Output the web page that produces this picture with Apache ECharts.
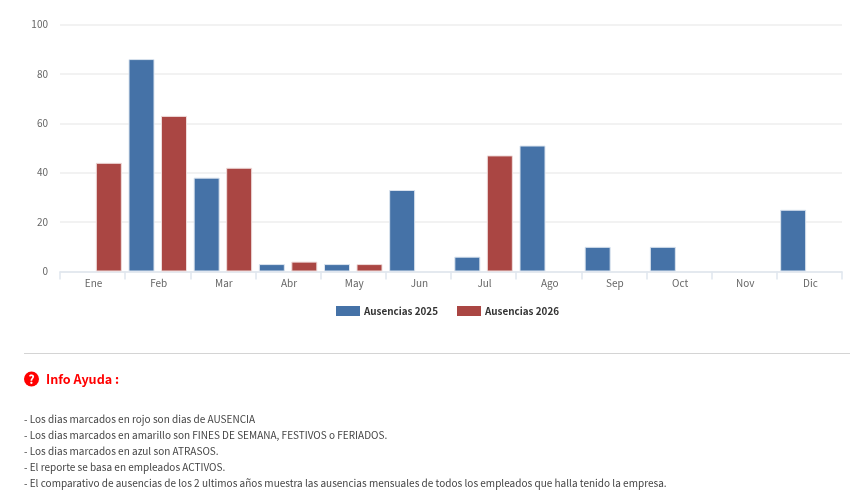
<!DOCTYPE html>
<html><head><meta charset="utf-8">
<style>html,body{margin:0;padding:0;background:#fff}#c{width:861px;height:492px}</style>
<script src="https://cdn.jsdelivr.net/npm/echarts@6/dist/echarts.min.js"></script>
</head><body><div id="c"></div>
<script>
const categories=['Ene','Feb','Mar','Abr','May','Jun','Jul','Ago','Sep','Oct','Nov','Dic'];
const ausencias2025=[null,86,38,3,3,33,6,51,10,10,null,25];
const ausencias2026=[44,63,42,4,3,null,47,null,null,null,null,null];
const seriesNames=['Ausencias 2025','Ausencias 2026'];
const yTicks={min:0,max:100,interval:20};
const helpTitle='Info Ayuda :';
const helpLines=[
 '- Los dias marcados en rojo son dias de AUSENCIA',
 '- Los dias marcados en amarillo son FINES DE SEMANA, FESTIVOS o FERIADOS.',
 '- Los dias marcados en azul son ATRASOS.',
 '- El reporte se basa en empleados ACTIVOS.',
 '- El comparativo de ausencias de los 2 ultimos años muestra las ausencias mensuales de todos los empleados que halla tenido la empresa.'
];
const font='"Noto Sans CJK SC"';
const chart=echarts.init(document.getElementById('c'),null,{renderer:'canvas'});
const mk=(name,data,color,border)=>({name,type:'bar',data,barWidth:26,barGap:'25%',
  itemStyle:{color,borderColor:border,borderWidth:1},
  emphasis:{disabled:true},animation:false});
chart.setOption({
 animation:false,
 grid:{left:60,right:19,top:24.5,height:247},
 legend:{data:seriesNames,left:331,top:301,itemWidth:24,itemHeight:10,itemGap:19,icon:'rect',
   itemStyle:{borderWidth:0},
   textStyle:{fontFamily:font,fontSize:9.9,fontWeight:'bold',color:'#333',padding:[0,0,0,-1]}},
 xAxis:{type:'category',data:categories,
   axisLine:{lineStyle:{color:'#e0e6ee',width:1.5}},
   axisTick:{show:true,length:8,alignWithLabel:false,lineStyle:{color:'#e0e6ee',width:1.5}},
   axisLabel:{fontFamily:font,fontSize:10,color:'#666',margin:7,padding:[0,0,0,2]}},
 yAxis:{type:'value',min:yTicks.min,max:yTicks.max,interval:yTicks.interval,
   axisLine:{show:false},axisTick:{show:false},
   splitLine:{lineStyle:{color:'#eeeeee',width:1.5}},
   axisLabel:{fontFamily:font,fontSize:10,color:'#666',margin:12,padding:[0,0,2,0]}},
 series:[mk(seriesNames[0],ausencias2025,'#4572a7','#dbe4ef'),mk(seriesNames[1],ausencias2026,'#aa4643','#efdcdb')],
 graphic:[
  {type:'line',silent:true,shape:{x1:24,y1:353.5,x2:850,y2:353.5},style:{stroke:'#d4d4d4',lineWidth:1}},
  {type:'circle',silent:true,shape:{cx:31.5,cy:379,r:7.5},style:{fill:'#ff0000'}},
  {type:'text',silent:true,x:31.5,y:379,style:{text:'?',fill:'#fff',font:'bold 12px "Noto Sans CJK SC"',align:'center',verticalAlign:'middle'}},
  {type:'text',silent:true,x:46,y:379.5,style:{text:helpTitle,fill:'#ff0000',font:'bold 12.6px "Noto Sans CJK SC"',verticalAlign:'middle'}},
  ...helpLines.map((t,i)=>({type:'text',silent:true,x:24,y:419.5+i*16,style:{text:t,fill:'#444',font:'10.03px "Noto Sans CJK SC"',verticalAlign:'middle'}}))
 ]
});
</script></body></html>
